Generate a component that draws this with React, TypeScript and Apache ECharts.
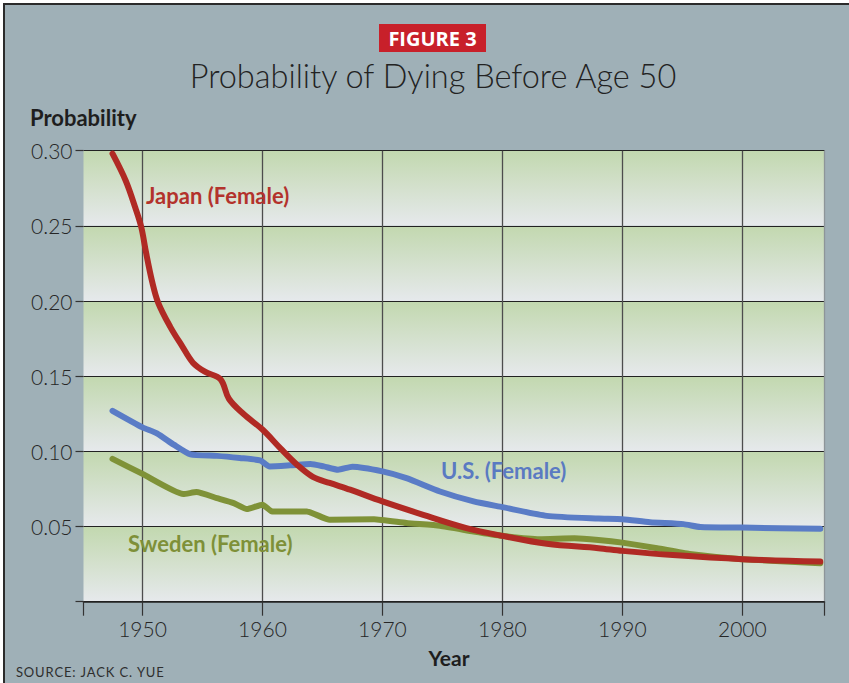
import React, { useEffect, useRef } from "react";
import * as echarts from "echarts";

const japanYears = [1947.5, 1948.6, 1949.4, 1949.9, 1950.3, 1950.8, 1951.3, 1952.3, 1953.3, 1954.2, 1955.2, 1956.5, 1957.2, 1958.4, 1960, 1961.5, 1962.9, 1964.2, 1965.6, 1967.3, 1970, 1973.4, 1977, 1980, 1983.7, 1988, 1990, 1994.2, 2000, 2006.5];
const japanValues = [0.298, 0.28, 0.262, 0.249, 0.232, 0.213, 0.199, 0.183, 0.17, 0.159, 0.153, 0.148, 0.135, 0.125, 0.1145, 0.102, 0.091, 0.083, 0.079, 0.0745, 0.0667, 0.0578, 0.049, 0.0438, 0.0385, 0.0356, 0.0338, 0.031, 0.0283, 0.0267];

const usYears = [1947.5, 1950, 1951.2, 1952.6, 1954, 1956.2, 1958.1, 1959.8, 1960.6, 1962.3, 1964, 1965.1, 1966.3, 1967.5, 1970, 1972, 1974.8, 1977.6, 1980, 1983.7, 1988, 1990, 1992.3, 1995.1, 1996.5, 2000, 2006.5];
const usValues = [0.127, 0.116, 0.112, 0.1045, 0.098, 0.097, 0.0956, 0.094, 0.09, 0.0907, 0.0916, 0.09, 0.0878, 0.0898, 0.0867, 0.0822, 0.0733, 0.0667, 0.0629, 0.0571, 0.0553, 0.0549, 0.0529, 0.0516, 0.0497, 0.0493, 0.0485];

const swedenYears = [1947.5, 1950, 1953.4, 1954.5, 1956.2, 1957.6, 1958.7, 1960, 1960.8, 1963.7, 1965.6, 1969.3, 1972, 1974.8, 1977.6, 1980, 1983.1, 1986, 1988, 1990, 1992.9, 1995.6, 2000, 2006.5];
const swedenValues = [0.095, 0.085, 0.0716, 0.0729, 0.0689, 0.0656, 0.0616, 0.0645, 0.06, 0.06, 0.0545, 0.0549, 0.0523, 0.0505, 0.0467, 0.0438, 0.0416, 0.0422, 0.0411, 0.0393, 0.0356, 0.0318, 0.0283, 0.0256];

const xMin = 1945.08;
const xMax = 2006.85;
const xTickValues = [xMin, 1950, 1960, 1970, 1980, 1990, 2000, xMax];
const xLabelValues = [1950, 1960, 1970, 1980, 1990, 2000];

const yMin = 0;
const yMax = 0.3;
const yInterval = 0.05;

const pairs = (xs: number[], ys: number[]) => xs.map((x, i) => [x, ys[i]]);
const spaced = (s: string) => s.split("").join("\u200A");

export default function App() {
  const ref = useRef<HTMLDivElement>(null);

  useEffect(() => {
    document.body.style.margin = "0";
    if (!ref.current) return;
    const chart = echarts.init(ref.current, null, { renderer: "svg" });
    const bandGradient = {
      type: "linear",
      x: 0,
      y: 0,
      x2: 0,
      y2: 1,
      colorStops: [
        { offset: 0, color: "#c2d8af" },
        { offset: 1, color: "#e6e9ec" },
      ],
    };
    const lineBase = (name: string, data: number[][], color: string, smooth: number) => ({
      name,
      type: "line",
      data,
      smooth,
      symbol: "none",
      lineStyle: { color, width: 6, cap: "round", join: "round" },
      z: 3,
    });
    const labelFont = "Lato, 'Open Sans', sans-serif";
    chart.setOption({
      animation: false,
      backgroundColor: "transparent",
      grid: { left: 83.5, right: 24.5, top: 150.7, bottom: 81.3 },
      xAxis: {
        type: "value",
        min: xMin,
        max: xMax,
        axisLine: { show: true, lineStyle: { color: "#222", width: 1.5 } },
        axisTick: { show: true, length: 14, customValues: xTickValues, lineStyle: { color: "#333", width: 1.2 } },
        axisLabel: {
          customValues: xLabelValues,
          margin: 16,
          fontFamily: labelFont,
          fontWeight: 300,
          fontSize: 21,
          color: "#262626",
          formatter: (v: number) => String(Math.round(v)),
        },
        splitLine: {
          show: true,
          lineStyle: {
            color: ["rgba(0,0,0,0)", "#4d4d4d", "#4d4d4d", "#4d4d4d", "#4d4d4d", "#4d4d4d", "#4d4d4d", "#8d9599"],
            width: 1.3,
          },
        },
      },
      yAxis: {
        type: "value",
        min: yMin,
        max: yMax,
        interval: yInterval,
        axisLine: { show: false },
        axisTick: { show: true, length: 8, lineStyle: { color: "#333", width: 1.2 } },
        axisLabel: {
          margin: 11,
          fontFamily: labelFont,
          fontWeight: 300,
          fontSize: 21,
          color: "#262626",
          formatter: (v: number) => (v === 0 ? "" : v.toFixed(2)),
        },
        splitLine: { show: true, lineStyle: { color: "#222", width: 1.2 } },
        splitArea: { show: true, areaStyle: { color: [bandGradient] } },
      },
      series: [
        lineBase("Sweden (Female)", pairs(swedenYears, swedenValues), "#7f9238", 0.15),
        lineBase("U.S. (Female)", pairs(usYears, usValues), "#5a7cc6", 0.2),
        lineBase("Japan (Female)", pairs(japanYears, japanValues), "#b02a24", 0.35),
      ],
      graphic: [
        { type: "rect", z: 10, shape: { x: 379, y: 24, width: 107, height: 28 }, style: { fill: "#c8202a" } },
        {
          type: "text",
          z: 11,
          x: 432.5,
          y: 38.5,
          style: {
            text: "FIGURE 3",
            fill: "#ffffff",
            font: "bold 20px 'Liberation Sans Narrow', 'Open Sans', sans-serif",
            align: "center",
            verticalAlign: "middle",
          },
        },
        {
          type: "text",
          z: 10,
          x: 433,
          y: 75,
          style: {
            text: "Probability of Dying Before Age 50",
            fill: "#222",
            font: "300 32.5px Lato, 'Open Sans', sans-serif",
            align: "center",
            verticalAlign: "middle",
          },
        },
        {
          type: "text",
          z: 10,
          x: 30,
          y: 117,
          style: { text: "Probability", fill: "#1e1e1e", font: "bold 22px Lato, 'Open Sans', sans-serif", verticalAlign: "middle" },
        },
        {
          type: "text",
          z: 10,
          x: 449,
          y: 657,
          style: { text: "Year", fill: "#1e1e1e", font: "bold 21px Lato, 'Open Sans', sans-serif", align: "center", verticalAlign: "middle" },
        },
        {
          type: "text",
          z: 10,
          x: 16,
          y: 672,
          style: { text: spaced("SOURCE: JACK C. YUE"), fill: "#2e2e2e", font: "13px Lato, 'Open Sans', sans-serif", verticalAlign: "middle" },
        },
        {
          type: "text",
          z: 10,
          x: 146,
          y: 195,
          style: { text: "Japan (Female)", fill: "#b3322c", font: "bold 22px Lato, 'Open Sans', sans-serif", verticalAlign: "middle" },
        },
        {
          type: "text",
          z: 10,
          x: 441,
          y: 470,
          style: { text: "U.S. (Female)", fill: "#5a7ac2", font: "bold 22px Lato, 'Open Sans', sans-serif", verticalAlign: "middle" },
        },
        {
          type: "text",
          z: 10,
          x: 128,
          y: 543,
          style: { text: "Sweden (Female)", fill: "#7e9038", font: "bold 22px Lato, 'Open Sans', sans-serif", verticalAlign: "middle" },
        },
      ],
    });
    return () => chart.dispose();
  }, []);

  return (
    <div style={{ position: "relative", width: 849, height: 683, background: "#ffffff", overflow: "hidden" }}>
      <div
        style={{
          position: "absolute",
          left: 3,
          top: 3,
          right: 0,
          bottom: 0,
          background: "#9fb0b7",
          borderTop: "2px solid #2b2b2b",
          borderLeft: "2px solid #2b2b2b",
        }}
      />
      <div ref={ref} style={{ position: "absolute", left: 0, top: 0, width: 849, height: 683 }} />
    </div>
  );
}
